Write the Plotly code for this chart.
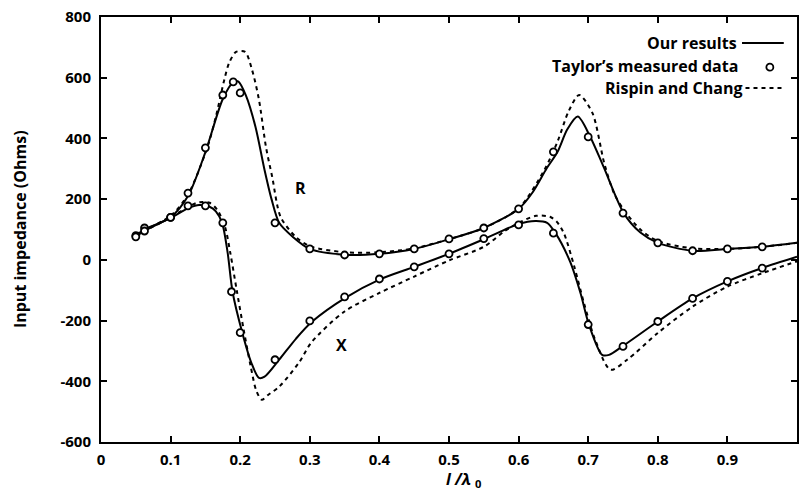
import plotly.graph_objects as go

# ---- data ----
r_ours_x = [0.05, 0.0625, 0.1, 0.125, 0.15, 0.175, 0.19, 0.197, 0.208, 0.222, 0.235, 0.245, 0.256, 0.275, 0.3,
            0.35, 0.4, 0.45, 0.5, 0.55, 0.6, 0.62, 0.64, 0.656, 0.67, 0.685, 0.703, 0.722, 0.751, 0.775, 0.8,
            0.85, 0.9, 0.95, 1.0]
r_ours_y = [80, 100, 140, 210, 355, 530, 585, 588, 543, 438, 296, 200, 122, 77, 36,
            17, 20, 36, 68, 105, 168, 222, 300, 356, 430, 472, 405, 307, 154, 90, 56,
            30, 36, 43, 56]

r_rc_x = [0.05, 0.1, 0.125, 0.153, 0.165, 0.177, 0.184, 0.194, 0.207, 0.217, 0.227, 0.237, 0.246, 0.258, 0.28,
          0.3, 0.35, 0.4, 0.45, 0.5, 0.55, 0.6, 0.637, 0.656, 0.672, 0.687, 0.706, 0.723, 0.737, 0.751, 0.775,
          0.8, 0.85, 0.9, 0.95, 1.0]
r_rc_y = [85, 145, 215, 372, 471, 592, 648, 685, 685, 626, 527, 372, 273, 142, 75,
          45, 25, 25, 38, 68, 105, 170, 296, 390, 490, 543, 484, 319, 220, 165, 100,
          62, 38, 36, 43, 56]

x_ours_x = [0.05, 0.066, 0.1, 0.127, 0.141, 0.156, 0.165, 0.174, 0.182, 0.189, 0.203, 0.216, 0.227, 0.235,
            0.256, 0.28, 0.303, 0.351, 0.4, 0.45, 0.5, 0.55, 0.6, 0.624, 0.641, 0.653, 0.674, 0.689, 0.701,
            0.72, 0.73, 0.749, 0.8, 0.85, 0.9, 0.95, 1.0]
x_ours_y = [78, 100, 138, 172, 181, 175, 160, 122, 23, -105, -240, -339, -389, -385,
            -329, -260, -204, -125, -65, -23, 20, 68, 118, 128, 122, 88, -6, -110, -213,
            -313, -313, -285, -203, -127, -71, -27, 10]

x_rc_x = [0.05, 0.1, 0.13, 0.141, 0.156, 0.167, 0.178, 0.186, 0.195, 0.205, 0.215, 0.223, 0.231, 0.24,
          0.256, 0.284, 0.303, 0.35, 0.4, 0.45, 0.5, 0.55, 0.58, 0.6, 0.625, 0.645, 0.655, 0.665, 0.68, 0.694,
          0.71, 0.732, 0.756, 0.8, 0.85, 0.9, 0.95, 1.0]
x_rc_y = [80, 140, 180, 190, 188, 165, 110, 20, -100, -230, -350, -430, -461, -445,
          -418, -340, -270, -170, -109, -55, -2, 43, 95, 122, 145, 142, 125, 88, -22, -143,
          -263, -362, -329, -241, -154, -88, -44, -5]

taylor_r_x = [0.05, 0.0625, 0.1, 0.125, 0.15, 0.175, 0.19, 0.2, 0.25, 0.3, 0.35, 0.4, 0.45, 0.5, 0.55,
              0.6, 0.65, 0.7, 0.75, 0.8, 0.85, 0.9, 0.95]
taylor_r_y = [80, 105, 140, 220, 369, 543, 586, 550, 122, 36, 16, 20, 36, 69, 105,
              168, 356, 405, 154, 56, 30, 36, 43]
taylor_x_x = [0.05, 0.0625, 0.1, 0.125, 0.15, 0.175, 0.1875, 0.2, 0.25, 0.3, 0.35, 0.4, 0.45, 0.5, 0.55,
              0.6, 0.65, 0.7, 0.75, 0.8, 0.85, 0.9, 0.95]
taylor_x_y = [76, 95, 140, 178, 178, 122, -105, -240, -329, -201, -122, -63, -23, 20, 70,
              115, 88, -213, -285, -203, -127, -71, -27]

x_tickvals = [0, 0.1, 0.2, 0.3, 0.4, 0.5, 0.6, 0.7, 0.8, 0.9, 1.0]
x_ticktext = ["0", "0.1", "0.2", "0.3", "0.4", "0.5", "0.6", "0.7", "0.8", "0.9", "1"]
y_tickvals = [-600, -400, -200, 0, 200, 400, 600, 800]
y_ticktext = ["-600", "-400", "-200", "0", "200", "400", "600", "800"]

FONT = "Open Sans"

fig = go.Figure()
line_solid = dict(color="black", width=2, shape="spline", smoothing=0.8)
line_dash = dict(color="black", width=2, dash="4px,4px", shape="spline", smoothing=0.8)

fig.add_trace(go.Scatter(x=r_rc_x, y=r_rc_y, mode="lines", line=line_dash, showlegend=False))
fig.add_trace(go.Scatter(x=x_rc_x, y=x_rc_y, mode="lines", line=line_dash, showlegend=False))
fig.add_trace(go.Scatter(x=r_ours_x, y=r_ours_y, mode="lines", line=line_solid, showlegend=False))
fig.add_trace(go.Scatter(x=x_ours_x, y=x_ours_y, mode="lines", line=line_solid, showlegend=False))
marker = dict(symbol="circle", size=7, color="white", line=dict(color="black", width=1.8))
fig.add_trace(go.Scatter(x=taylor_r_x, y=taylor_r_y, mode="markers", marker=marker, showlegend=False))
fig.add_trace(go.Scatter(x=taylor_x_x, y=taylor_x_y, mode="markers", marker=marker, showlegend=False))

axis_common = dict(showline=True, linecolor="black", linewidth=2, mirror="allticks",
                   ticks="inside", ticklen=6, tickwidth=1.5, tickcolor="black",
                   showgrid=False, zeroline=False,
                   tickfont=dict(family=FONT, size=15, color="black", weight="bold"))

fig.update_xaxes(range=[0, 1], tickvals=x_tickvals, ticktext=x_ticktext, ticklabelstandoff=3, **axis_common)
fig.update_yaxes(range=[-600, 800], tickvals=y_tickvals, ticktext=y_ticktext, ticklabelstandoff=5, **axis_common)

# legend drawn by hand (text right-aligned, sample at right)
lf = dict(family=FONT, size=16, color="black", weight="bold")
ann = [
    dict(x=0.917, y=0.939, text="Our results", xanchor="right"),
    dict(x=0.918, y=0.885, text="Taylor’s measured data", xanchor="right"),
    dict(x=0.924, y=0.833, text="Rispin and Chang", xanchor="right"),
]
annotations = []
for a in ann:
    annotations.append(dict(xref="paper", yref="paper", yanchor="middle", showarrow=False, font=lf, **a))
annotations.append(dict(x=0.287, y=237, xref="x", yref="y", text="R", showarrow=False, font=lf))
annotations.append(dict(x=0.346, y=-280, xref="x", yref="y", text="X", showarrow=False, font=lf))
annotations.append(dict(x=-0.117, y=0.5, xref="paper", yref="paper", text="Input impedance (Ohms)",
                        textangle=-90, showarrow=False, xanchor="center", yanchor="middle",
                        font=dict(family=FONT, size=16, color="black", weight="bold")))
annotations.append(dict(x=0.521, y=-0.088, xref="paper", yref="paper", text="<i>l /λ</i> <sub>0</sub>",
                        showarrow=False, xanchor="center", yanchor="middle",
                        font=dict(family=FONT, size=16, color="black", weight="bold")))

shapes = [
    dict(type="line", xref="paper", yref="paper", x0=0.921, x1=0.981, y0=0.939, y1=0.939,
         line=dict(color="black", width=2)),
    dict(type="circle", xref="paper", yref="paper", x0=0.961 - 3.5 / 698, x1=0.961 + 3.5 / 698,
         y0=0.882 - 3.5 / 425, y1=0.882 + 3.5 / 425, line=dict(color="black", width=1.8)),
    dict(type="line", xref="paper", yref="paper", x0=0.926, x1=0.979, y0=0.833, y1=0.833,
         line=dict(color="black", width=2, dash="4px,4px")),
]

fig.update_layout(width=800, height=494, margin=dict(l=101, r=1, t=17, b=52),
                  paper_bgcolor="white", plot_bgcolor="white",
                  annotations=annotations, shapes=shapes, showlegend=False)

fig.write_html("out.html")
